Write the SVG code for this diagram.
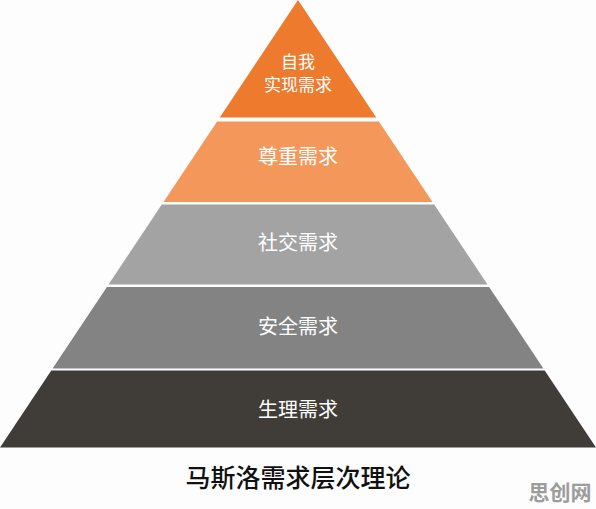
<svg xmlns="http://www.w3.org/2000/svg" width="596" height="509" viewBox="0 0 596 509">
<style>
.lbl{font-family:"Noto Sans CJK SC","Noto Sans",sans-serif;fill:#ffffff;text-anchor:middle;font-size:20px}
.sm{font-size:17px}
.title{font-family:"Noto Sans CJK SC","Noto Sans",sans-serif;fill:#111111;text-anchor:middle;font-size:25px;font-weight:500}
.wm{font-family:"Noto Sans CJK SC","Noto Sans",sans-serif;fill:#9c9c9c;text-anchor:middle;font-size:21px;font-weight:700}
</style>
<rect width="596" height="509" fill="#fdfdfd"/>
<g id="layer-self">
<polygon points="298,0 376.25,117.5 219.75,117.5" fill="#ee7a2e"/>
<text class="lbl sm" x="298" y="67.5">自我</text>
<text class="lbl sm" x="298" y="91">实现需求</text>
</g>
<g id="layer-esteem">
<polygon points="217.1,121.5 378.9,121.5 432.5,202 163.5,202" fill="#f4975a"/>
<text class="lbl" x="298" y="164">尊重需求</text>
</g>
<g id="layer-social">
<polygon points="161.8,204.5 434.2,204.5 487.5,284.5 108.5,284.5" fill="#a4a3a3"/>
<text class="lbl" x="298" y="250">社交需求</text>
</g>
<g id="layer-safety">
<polygon points="106.9,287 489.1,287 543.4,368.5 52.6,368.5" fill="#838383"/>
<text class="lbl" x="298" y="334">安全需求</text>
</g>
<g id="layer-physio">
<polygon points="51.3,370.5 544.7,370.5 596,447.5 0,447.5" fill="#403d38"/>
<text class="lbl" x="298" y="417">生理需求</text>
</g>
<g id="connectors"></g>
<text class="title" x="298" y="487">马斯洛需求层次理论</text>
<text class="wm" x="560" y="500">思创网</text>
</svg>
